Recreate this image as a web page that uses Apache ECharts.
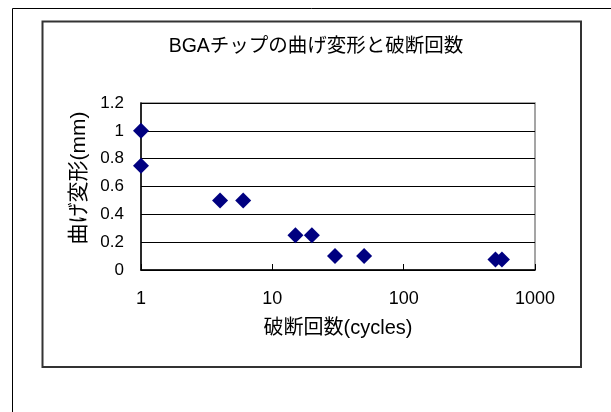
<!DOCTYPE html>
<html><head><meta charset="utf-8">
<script src="https://cdn.jsdelivr.net/npm/echarts@6/dist/echarts.min.js"></script>
<style>html,body{margin:0;padding:0;background:#fff}#c{width:611px;height:412px}</style>
</head><body><div id="c"></div>
<script>
var titleText = 'BGAチップの曲げ変形と破断回数';
var xAxisName = '破断回数(cycles)';
var yAxisName = '曲げ変形(mm)';
var cycles = [1, 1, 4, 6, 15, 20, 30, 50, 500, 560];
var deflection = [1.0, 0.75, 0.5, 0.5, 0.25, 0.25, 0.1, 0.1, 0.075, 0.075];
var yTicks = [0, 0.2, 0.4, 0.6, 0.8, 1, 1.2];

var FONT = '"Liberation Sans", "Noto Sans CJK JP", sans-serif';
var pts = cycles.map(function (c, i) { return [c, deflection[i]]; });
var chart = echarts.init(document.getElementById('c'), null, {renderer: 'canvas'});
chart.setOption({
  animation: false,
  backgroundColor: '#fff',
  title: {
    text: titleText, left: 311, top: 32, textAlign: 'center',
    textStyle: {fontFamily: FONT, fontSize: 19.5, fontWeight: 'normal', color: '#000'}
  },
  graphic: [
    {type: 'polyline', shape: {points: [[12.5, 412], [12.5, 8.5], [611, 8.5]]}, style: {stroke: '#000', lineWidth: 1, fill: null}},
    {type: 'rect', shape: {x: 42.5, y: 21.5, width: 538.5, height: 345.5}, style: {stroke: '#333', lineWidth: 2, fill: null}}
  ],
  grid: {left: 141, right: 76, top: 103, bottom: 142, show: true, borderColor: '#888', borderWidth: 1.5},
  xAxis: {
    type: 'log', logBase: 10, min: 1, max: 1000,
    name: xAxisName, nameLocation: 'middle', nameGap: 48,
    nameTextStyle: {fontFamily: FONT, fontSize: 20, color: '#000'},
    axisLine: {lineStyle: {color: '#000', width: 1.5}},
    axisTick: {show: true, inside: true, length: 6, lineStyle: {color: '#000'}},
    minorTick: {show: false},
    splitLine: {show: false},
    axisLabel: {fontFamily: FONT, fontSize: 18, color: '#000', margin: 20,
      formatter: function (v) { return String(Math.round(v)); }}
  },
  yAxis: {
    type: 'value', min: 0, max: 1.2, interval: 0.2,
    name: yAxisName, nameLocation: 'middle', nameGap: 50, nameRotate: 90,
    nameTextStyle: {fontFamily: FONT, fontSize: 21, color: '#000', padding: [0, 0, 0, 17]},
    axisLine: {show: true, lineStyle: {color: '#000', width: 1.5}},
    axisTick: {show: false},
    splitLine: {lineStyle: {color: '#000', width: 1}},
    axisLabel: {fontFamily: FONT, fontSize: 17, color: '#000', margin: 17,
      formatter: function (v) { return String(Math.round(v * 10) / 10); }}
  },
  series: [{
    type: 'scatter', data: pts, symbol: 'diamond', symbolSize: [16, 16],
    itemStyle: {color: '#000080', opacity: 1}
  }]
});
</script></body></html>
